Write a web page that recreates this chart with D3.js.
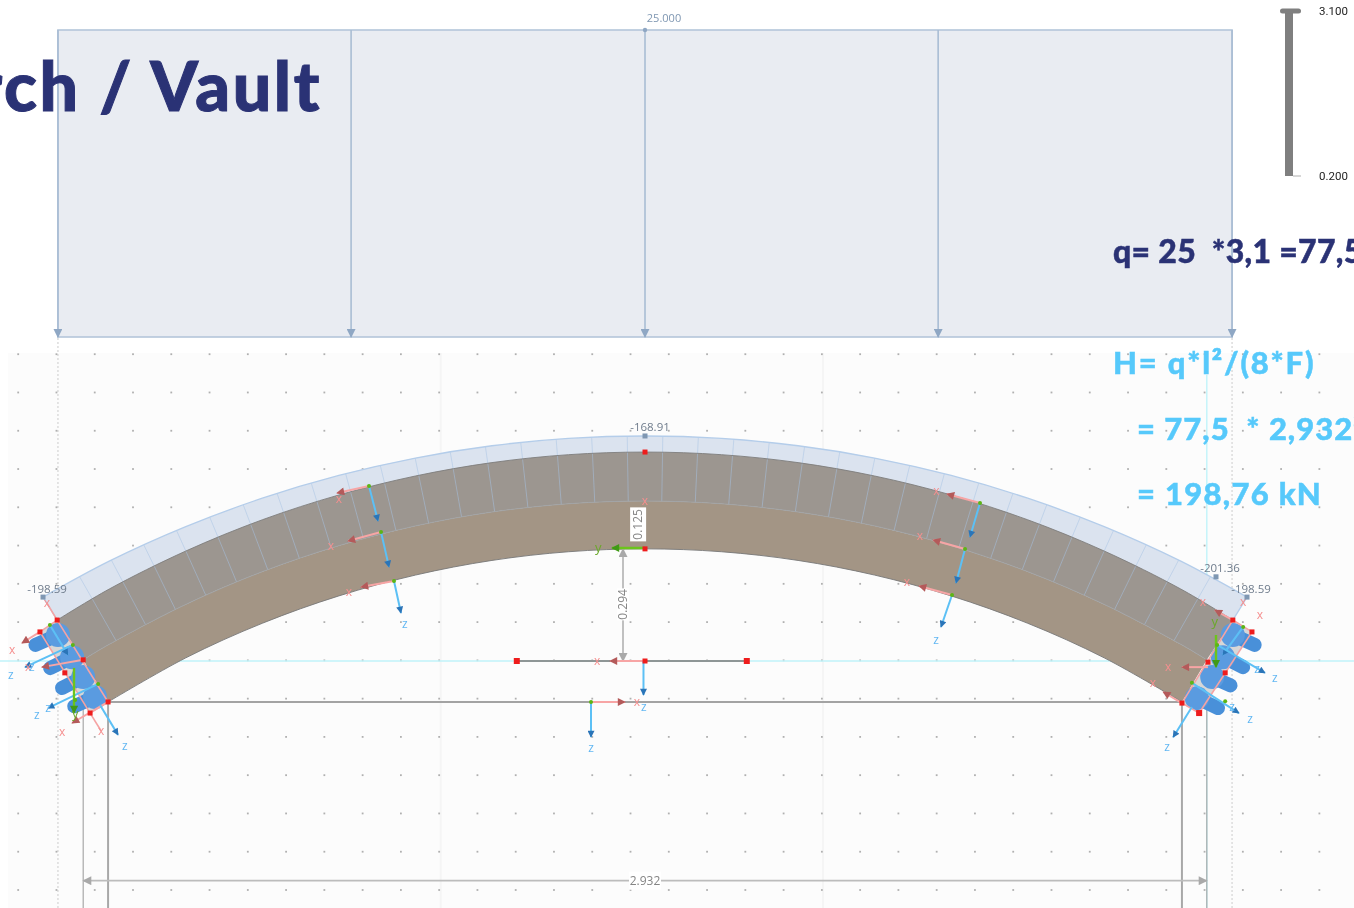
<!DOCTYPE html>
<html><head><meta charset="utf-8">
<script src="https://cdn.jsdelivr.net/npm/d3@7/dist/d3.min.js"></script>
<style>html,body{margin:0;padding:0;background:#fff;overflow:hidden}svg{display:block}text{font-family:"Open Sans",sans-serif}</style>
</head><body><svg id="c" width="1354" height="908"></svg>
<script>
// ---------- data (metres; x from crown, h above springing axis) ----------
const stations   = [0.2,0.4,0.6,0.8,1.0,1.2,1.4];
const bandTop    = [0.588,0.5816,0.5625,0.5304,0.4848,0.4254,0.351,0.2608];
const extrados   = [0.546,0.5391,0.5184,0.4834,0.4338,0.369,0.2873,0.188];
const midline    = [0.418,0.4109,0.3893,0.353,0.3014,0.2335,0.1479,0.0436];
const intrados   = [0.293,0.2855,0.2628,0.2245,0.1701,0.0986,0.0082,-0.105];
const bandEnd    = [1.573,0.167];
const extrEnd    = [1.536,0.107];
const midEnd     = [1.468,0.003];
const intrEnd    = [1.403,-0.107];
const blockAngles= [0.9,2.7,4.5,6.3,8.1,9.9,11.7,13.5,15.3,17.1,18.9,20.7,22.5,24.3,26.1,27.9,29.7];
const loadValue = 25, loadLabel = "25.000";
const loadArrowsX = [-1.534,-0.768,0,0.766,1.534];
const spanDim = ["2.932", -1.468, 1.468];
const thickDim = ["0.125"], riseDim = ["0.294"];
const thickScale = [0.2,3.1], thickLabels = ["0.200","3.100"];
const nodeForces = [["-168.91",0,0.588],["-198.59",-1.573,0.167],["-201.36",1.492,0.22],["-198.59",1.573,0.167]];
const capLeft  = [[-1.536,0.107],[-1.403,-0.107],[-1.450,-0.136],[-1.581,0.076]];
const capRight = [[1.536,0.107],[1.403,-0.110],[1.448,-0.136],[1.586,0.076]];
const boltHeads= [[-1.534,0.068],[-1.497,0.010],[-1.468,-0.042],[-1.437,-0.094],[1.536,0.068],[1.510,0.010],[1.482,-0.042],[1.442,-0.097]];
const boltEnds = [[-1.604,0.037],[-1.565,-0.024],[-1.534,-0.076],[-1.502,-0.123],[1.604,0.037],[1.573,-0.021],[1.539,-0.068],[1.508,-0.128]];
const pinkEdges= [[-1.536,0.107,-1.403,-0.107],[-1.581,0.076,-1.450,-0.136],[1.536,0.107,1.403,-0.110],[1.586,0.076,1.448,-0.136],[-1.581,0.076,-1.536,0.107],[-1.450,-0.136,-1.403,-0.107],[1.586,0.076,1.536,0.107],[1.448,-0.136,1.403,-0.110],[-1.421,-0.183,-1.450,-0.136],[-1.563,0.152,-1.536,0.107]];
const xArrows = [
 [-0.7212,0.4573,-0.8048,0.439],[-0.6898,0.3371,-0.7761,0.3136],[-0.6559,0.209,-0.7421,0.1934],
 [0.8754,0.4129,0.7891,0.4364],[0.8362,0.2927,0.7525,0.3162],[0.8022,0.1725,0.716,0.196],
 [0,0,-0.0915,0],[-0.1411,-0.1071,-0.0523,-0.1071],
 [-1.581,0.076,-1.628,0.047],[-1.468,0.003,-1.576,-0.016],[-1.403,-0.107,-1.497,-0.162],
 [1.536,0.107,1.489,0.133],[1.471,-0.016,1.403,-0.016],[1.403,-0.110,1.354,-0.081]];
const zArrows = [
 [-0.7212,0.4573,-0.6977,0.3658],[-0.6898,0.3371,-0.6689,0.2456],[-0.6559,0.209,-0.6376,0.1254],
 [0.8754,0.4129,0.8492,0.324],[0.8362,0.2927,0.8127,0.2038],[0.8022,0.1725,0.7734,0.0888],
 [-0.004,0,-0.004,-0.0888],[-0.1411,-0.1071,-0.1411,-0.1986],
 [-1.555,0.094,-1.508,0.016],[-1.495,0.042,-1.620,-0.016],[-1.429,-0.060,-1.560,-0.123],[-1.424,-0.115,-1.377,-0.193],
 [1.563,0.089,1.510,0.016],[1.495,0.042,1.620,-0.031],[1.429,-0.057,1.552,-0.136],[1.429,-0.120,1.380,-0.199]];
const yArrows = [[0,0.2953,-0.0862,0.2953],[-1.492,-0.018,-1.492,-0.136],[1.492,0.068,1.492,-0.016]];
const redNodes = [[0,0.546],[0,0.293],[-1.536,0.107],[-1.581,0.076],[-1.468,0.003],[-1.516,-0.031],[-1.403,-0.107],[-1.450,-0.136],[1.536,0.107],[1.586,0.076],[1.471,-0.003],[1.516,-0.031],[1.403,-0.110],[1.448,-0.136],[0,0]];
const bigNodes = [[-0.335,0],[0.266,0],[1.448,-0.136]];
const greenNodes=[[-1.555,0.094],[-1.495,0.042],[-1.429,-0.060],[-1.489,-0.102],[1.563,0.089],[1.495,0.042],[1.429,-0.057],[1.516,-0.105]];
const triadBases=[[-0.7212,0.4573],[-0.6898,0.3371],[-0.6559,0.209],[0.8754,0.4129],[0.8362,0.2927],[0.8022,0.1725],[-0.1411,-0.1071]];
const labelsX = [[-0.8,0.423],[-0.8205,0.3015],[-0.7735,0.1805],[0.7615,0.4455],[0.7185,0.3275],[0.6845,0.2065],[-0.125,0],[-0.0215,-0.107],[0,0.418],
 [-1.654,0.029],[-1.612,-0.016],[-1.523,-0.186],[-1.421,-0.183],[-1.563,0.152],[1.458,0.154],[1.563,0.154],[1.607,0.120],[1.367,-0.016],[1.327,-0.057]];
const labelsZ = [[-0.6274,0.0955],[0.7605,0.0548],[-0.003,-0.12],[-0.1411,-0.2275],[-1.657,-0.037],[-1.602,-0.016],[-1.589,-0.141],[-1.560,-0.123],[-1.359,-0.222],[1.646,-0.044],[1.599,-0.021],[1.581,-0.152],[1.534,-0.120],[1.364,-0.225]];
const labelsY = [[-0.122,0.2953],[-1.489,-0.138],[1.489,0.102]];
const titleText = "Arch / Vault";
const qText = "q= 25  *3,1 =77,5";
const hLines = ["H= q*l²/(8*F)","= 77,5  * 2,932²","= 198,76 kN"];

// ---------- scales ----------
const W=1354,H=908;
const sx=d3.scaleLinear().domain([-1.6854,1.8526]).range([0,W]);
const sy=d3.scaleLinear().domain([1.7272,-0.6454]).range([0,H]);
const loadY=d3.scaleLinear().domain([0,loadValue]).range([337,30]);
const thickY=d3.scaleLinear().domain(thickScale).range([176,11]);
const svg=d3.select("#c");
const defs=svg.append("defs");
const blur=defs.append("filter").attr("id","soft").attr("x",0).attr("y",0).attr("width",1).attr("height",1).attr("filterUnits","objectBoundingBox");
blur.append("feGaussianBlur").attr("stdDeviation",0.55);
function marker(id,col,w,h){const m=defs.append("marker").attr("id",id).attr("viewBox","0 0 10 10").attr("refX",9).attr("refY",5)
 .attr("markerWidth",w).attr("markerHeight",h).attr("markerUnits","userSpaceOnUse").attr("orient","auto-start-reverse");
 m.append("path").attr("d","M0,0L10,5L0,10Z").attr("fill",col);}
marker("mR","#b45a5a",11,8);marker("mB","#2c74b8",11,7);marker("mG","#3f9a12",11,8);marker("mD","#a9a9a9",11,9);marker("mL","#8fa7c4",9,9);

svg.append("rect").attr("width",W).attr("height",H).attr("fill","#fff");
const g=svg.append("g").attr("filter","url(#soft)");
g.append("rect").attr("width",W).attr("height",H).attr("fill","#fff");
// ---------- ground ----------
g.append("rect").attr("x",8).attr("y",353).attr("width",W-8).attr("height",H-353).attr("fill","#fcfcfc");
[-0.534,0.465].forEach(x=>g.append("line").attr("x1",sx(x)).attr("x2",sx(x)).attr("y1",353).attr("y2",H).attr("stroke","#f5f5f5").attr("stroke-width",2));
[-1.534,1.534].forEach(x=>g.append("line").attr("x1",sx(x)).attr("x2",sx(x)).attr("y1",338).attr("y2",H).attr("stroke","#dcdcdc").attr("stroke-width",1.5).attr("stroke-dasharray","2 2"));
const dots=[];
for(let i=0;i<35;i++)for(let j=0;j<15;j++)dots.push([i,j]);
g.selectAll(".dot").data(dots).join("rect").attr("x",d=>sx(-1.6376+d[0]*0.1)-1).attr("y",d=>sy(0.8014-d[1]*0.1)-1)
 .attr("width",1.8).attr("height",1.8).attr("fill","#b0b0b0");
// reference axes
g.append("line").attr("x1",0).attr("x2",W).attr("y1",sy(0)).attr("y2",sy(0)).attr("stroke","#c0f3fa").attr("stroke-width",1.4);
g.append("line").attr("x1",sx(1.468)).attr("x2",sx(1.468)).attr("y1",375).attr("y2",H).attr("stroke","#c0f3fa").attr("stroke-width",1.4);

// ---------- load block ----------
g.append("rect").attr("x",sx(-1.534)).attr("y",loadY(loadValue)).attr("width",sx(1.534)-sx(-1.534)).attr("height",loadY(0)-loadY(loadValue))
 .attr("fill","#e9ecf2").attr("stroke","#b4c6da").attr("stroke-width",1.6);
g.selectAll(".la").data(loadArrowsX).join("line").attr("x1",d=>sx(d)).attr("x2",d=>sx(d)).attr("y1",loadY(loadValue)).attr("y2",loadY(0))
 .attr("stroke","#a9bdd4").attr("stroke-width",1.6).attr("marker-end","url(#mL)");
g.append("circle").attr("cx",sx(0)).attr("cy",loadY(loadValue)).attr("r",2.2).attr("fill","#8fa7c4");
g.append("text").attr("x",664).attr("y",22).attr("text-anchor","middle").attr("font-size",11).attr("fill","#7f97b2").text(loadLabel);

// ---------- title ----------
g.append("text").attr("x",322).attr("y",111).attr("text-anchor","end").attr("font-size",68).attr("font-weight",900)
 .attr("letter-spacing",2.6).attr("stroke","#2c3375").attr("stroke-width",1)
 .style("font-family","Lato").attr("fill","#2c3375").text(titleText);

// ---------- section scale ----------
g.append("rect").attr("x",1285).attr("y",thickY(3.1)).attr("width",8).attr("height",thickY(.2)-thickY(3.1)).attr("fill","#7f7f7f");
g.append("rect").attr("x",1280).attr("y",thickY(3.1)-2.5).attr("width",21).attr("height",5).attr("rx",2.5).attr("fill","#7f7f7f");
g.append("line").attr("x1",1293).attr("x2",1301).attr("y1",thickY(.2)).attr("y2",thickY(.2)).attr("stroke","#bdbdbd").attr("stroke-width",1.2);
g.selectAll(".tl").data(thickScale).join("text").attr("x",1319).attr("y",d=>thickY(d)+3.5).attr("font-size",11.5).attr("fill","#222")
 .style("font-family","Roboto").text((d,i)=>thickLabels[i]);

// ---------- arch ----------
const lineGen=d3.line().x(d=>sx(d[0])).y(d=>sy(d[1])).curve(d3.curveCatmullRom.alpha(0.5));
function full(vals,end){const r=stations.map((s,i)=>[s,vals[i+1]]).filter(p=>p[0]<end[0]-0.02);
 return [[-end[0],end[1]],...r.slice().reverse().map(p=>[-p[0],p[1]]),[0,vals[0]],...r,[end[0],end[1]]];}
const cBand=full(bandTop,bandEnd),cExt=full(extrados,extrEnd),cMid=full(midline,midEnd),cInt=full(intrados,intrEnd);
function between(a,b){return lineGen(a)+"L"+lineGen(b.slice().reverse()).slice(1)+"Z";}
g.append("path").attr("d",between(cBand,cExt)).attr("fill","#dbe3ef");
g.append("path").attr("d",between(cExt,cMid)).attr("fill","#9c9690");
g.append("path").attr("d",between(cMid,cInt)).attr("fill","#a39585");
defs.append("clipPath").attr("id","blk").append("path").attr("d",between(cBand,cMid));
const hC=-2.37,blocks=g.append("g").attr("clip-path","url(#blk)");
blockAngles.flatMap(a=>[a,-a]).forEach(a=>{const t=a*Math.PI/180;
 blocks.append("line").attr("x1",sx(2.7*Math.sin(t))).attr("y1",sy(hC+2.7*Math.cos(t))).attr("x2",sx(3.1*Math.sin(t))).attr("y2",sy(hC+3.1*Math.cos(t)))
  .attr("stroke","#a7c3e4").attr("stroke-width",1).attr("opacity",.5);});
g.append("path").attr("d",lineGen(cBand)).attr("fill","none").attr("stroke","#b4cdea").attr("stroke-width",1.3);
g.append("path").attr("d",lineGen(cExt)).attr("fill","none").attr("stroke","#7d7d7d").attr("stroke-width",.9);
g.append("path").attr("d",lineGen(cMid)).attr("fill","none").attr("stroke","#9fa3a6").attr("stroke-width",.9);
g.append("path").attr("d",lineGen(cInt)).attr("fill","none").attr("stroke","#777").attr("stroke-width",.9);
[[bandEnd,extrEnd],[[-bandEnd[0],bandEnd[1]],[-extrEnd[0],extrEnd[1]]]].forEach(p=>g.append("line").attr("x1",sx(p[0][0])).attr("y1",sy(p[0][1])).attr("x2",sx(p[1][0])).attr("y2",sy(p[1][1])).attr("stroke","#b4cdea").attr("stroke-width",1.3));

// ---------- dimensions ----------
[[-1.468,1.2],[-1.403,2],[1.403,2],[1.468,1.2]].forEach(d=>g.append("line").attr("x1",sx(d[0])).attr("x2",sx(d[0])).attr("y1",sy(d[0]*d[0]>2.1?0:-0.107)).attr("y2",H).attr("stroke","#a8a8a8").attr("stroke-width",d[1]));
g.append("line").attr("x1",sx(intrEnd[0]*-1)).attr("x2",sx(intrEnd[0])).attr("y1",sy(-.107)).attr("y2",sy(-.107)).attr("stroke","#a3a3a3").attr("stroke-width",2);
g.append("line").attr("x1",sx(spanDim[1])).attr("x2",sx(spanDim[2])).attr("y1",sy(-0.574)).attr("y2",sy(-0.574)).attr("stroke","#bcbcbc").attr("stroke-width",1.8)
 .attr("marker-start","url(#mD)").attr("marker-end","url(#mD)");
g.append("rect").attr("x",sx(0)-16).attr("y",sy(-.574)-9).attr("width",32).attr("height",18).attr("fill","#fff");
g.append("text").attr("x",sx(0)).attr("y",sy(-.574)+4.3).attr("text-anchor","middle").attr("font-size",12).attr("fill","#858585").text(spanDim[0]);
g.append("line").attr("x1",sx(-.0575)).attr("x2",sx(-.0575)).attr("y1",sy(.293)).attr("y2",sy(0)).attr("stroke","#c0c0c0").attr("stroke-width",2)
 .attr("marker-start","url(#mD)").attr("marker-end","url(#mD)");
function vLabel(x,h,t,bw,bh){const gg=g.append("g").attr("transform",`translate(${sx(x)},${sy(h)}) rotate(-90)`);
 gg.append("rect").attr("x",-bw/2).attr("y",-bh/2).attr("width",bw).attr("height",bh).attr("fill","#fff");
 gg.append("text").attr("y",4.3).attr("text-anchor","middle").attr("font-size",12).attr("fill","#858585").text(t);}
vLabel(-0.0575,0.148,riseDim[0],32,12);

// ---------- centre member ----------
g.append("line").attr("x1",sx(bigNodes[0][0])).attr("x2",sx(bigNodes[1][0])).attr("y1",sy(0)).attr("y2",sy(0)).attr("stroke","#8e9696").attr("stroke-width",2);

// ---------- supports ----------
function poly(p){return "M"+p.map(d=>sx(d[0])+","+sy(d[1])).join("L")+"Z";}
[capLeft,capRight].forEach(p=>g.append("path").attr("d",poly(p)).attr("fill","#d7d7d7"));
boltEnds.forEach((e,i)=>{const b=boltHeads[i];const mx=b[0]+(e[0]-b[0])*.35,my=b[1]+(e[1]-b[1])*.35,ex=b[0]+(e[0]-b[0])*.84,ey=b[1]+(e[1]-b[1])*.84;
 g.append("line").attr("x1",sx(mx)).attr("y1",sy(my)).attr("x2",sx(ex)).attr("y2",sy(ey)).attr("stroke","#4a90d9").attr("stroke-width",14).attr("stroke-linecap","round");});
g.selectAll(".bh").data(boltHeads).join("circle").attr("cx",d=>sx(d[0])).attr("cy",d=>sy(d[1])).attr("r",12).attr("fill","#5a9be0");
g.selectAll(".pe").data(pinkEdges).join("line").attr("x1",d=>sx(d[0])).attr("y1",d=>sy(d[1])).attr("x2",d=>sx(d[2])).attr("y2",d=>sy(d[3])).attr("stroke","#f5a3a3").attr("stroke-width",1.6);

// ---------- axis triads ----------
function arrows(data,col,m,w){g.selectAll(null).data(data).join("line").attr("x1",d=>sx(d[0])).attr("y1",d=>sy(d[1])).attr("x2",d=>sx(d[2])).attr("y2",d=>sy(d[3]))
 .attr("stroke",col).attr("stroke-width",w).attr("marker-end",`url(#${m})`);}
arrows(xArrows,"#f7a5a5","mR",2);
arrows(zArrows,"#5cc0f5","mB",2);
arrows(yArrows,"#6cc41e","mG",2.4);
g.selectAll(".gn").data(greenNodes.concat(triadBases)).join("circle").attr("cx",d=>sx(d[0])).attr("cy",d=>sy(d[1])).attr("r",2).attr("fill","#5cb514");
g.selectAll(".rn").data(redNodes).join("rect").attr("x",d=>sx(d[0])-2.5).attr("y",d=>sy(d[1])-2.5).attr("width",5).attr("height",5).attr("fill","#ee1c1c");
g.selectAll(".bn").data(bigNodes).join("rect").attr("x",d=>sx(d[0])-3).attr("y",d=>sy(d[1])-3).attr("width",6).attr("height",6).attr("fill","#ee1c1c");
vLabel(-0.018,0.357,thickDim[0],34,16);
function labels(data,col,t,fs){g.selectAll(null).data(data).join("text").attr("x",d=>sx(d[0])).attr("y",d=>sy(d[1])+4).attr("text-anchor","middle").attr("font-size",fs).attr("fill",col).text(t);}
labels(labelsX,"#f58f8f","x",12);
labels(labelsZ,"#62b7f2","z",12);
labels(labelsY,"#6aa82a","y",13);

// ---------- node results ----------
g.selectAll(".nf").data(nodeForces).join("text").attr("x",(d,i)=>sx(d[1])+[5,4,4,4][i]).attr("y",(d,i)=>sy(d[2])-4.5).attr("text-anchor","middle")
 .attr("font-size",11.5).attr("fill","#6f7c8c").text(d=>d[0]);
g.selectAll(".ns").data(nodeForces).join("rect").attr("x",d=>sx(d[1])-2.5).attr("y",d=>sy(d[2])-2.5).attr("width",5).attr("height",5).attr("fill","#7f97b2");

// ---------- formula text ----------
const f=(x,y,fs,col,t,ls)=>g.append("text").attr("x",x).attr("y",y).attr("font-size",fs).attr("font-weight",900).attr("fill",col)
 .attr("letter-spacing",ls).attr("stroke",col).attr("stroke-width",.5)
 .attr("xml:space","preserve").style("font-family","Lato").style("white-space","pre").text(t);
f(1113,263,32,"#2c3375",qText,.3);
f(1113,374,31,"#57c9fb",hLines[0],1.8);
f(1137,440,31,"#57c9fb",hLines[1],1);
f(1137,505,31,"#57c9fb",hLines[2],1.3);
</script></body></html>
